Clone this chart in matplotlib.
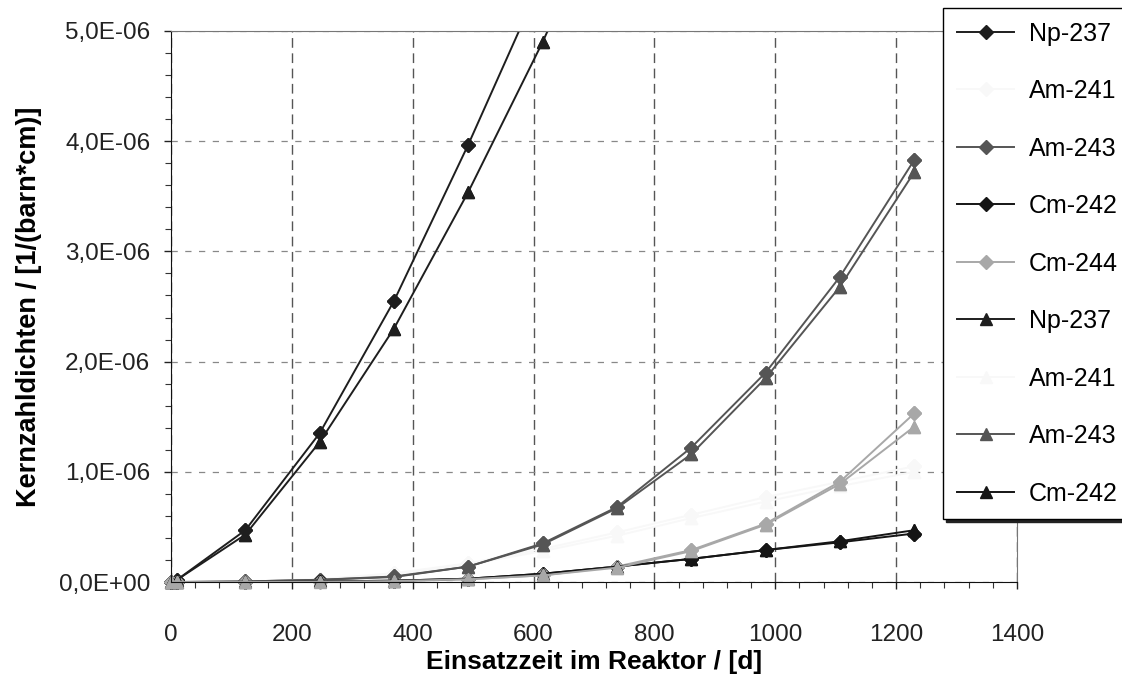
import numpy as np
import matplotlib
matplotlib.use('Agg')
import matplotlib.pyplot as plt
from matplotlib.ticker import MultipleLocator

plt.rcParams['font.family'] = ['Liberation Sans', 'DejaVu Sans']

# Einsatzzeit in Tagen
days = [0, 10, 123, 246, 369, 492, 615, 738, 861, 984, 1107, 1230]

# Kernzahldichten in 1E-06 /(barn*cm), Rauten-Reihe
np237_d = [0, 0.02, 0.47, 1.35, 2.55, 3.97, 5.48, 7.2, 9.1, 11.2, 13.5, 16.0]
am241_d = [0, 0, 0.005, 0.025, 0.08, 0.17, 0.30, 0.45, 0.61, 0.77, 0.91, 1.05]
am243_d = [0, 0, 0.005, 0.02, 0.05, 0.14, 0.35, 0.68, 1.22, 1.90, 2.77, 3.83]
cm242_d = [0, 0, 0.0, 0.005, 0.012, 0.03, 0.075, 0.14, 0.21, 0.29, 0.36, 0.44]
cm244_d = [0, 0, 0, 0.002, 0.008, 0.025, 0.06, 0.14, 0.29, 0.53, 0.91, 1.53]

# Dreieck-Reihe
np237_t = [0, 0.02, 0.43, 1.27, 2.30, 3.54, 4.90, 6.4, 8.1, 10.0, 12.1, 14.4]
am241_t = [0, 0, 0.005, 0.02, 0.07, 0.16, 0.28, 0.42, 0.58, 0.73, 0.87, 1.0]
am243_t = [0, 0, 0.005, 0.02, 0.045, 0.14, 0.34, 0.67, 1.16, 1.85, 2.68, 3.72]
cm242_t = [0, 0, 0, 0.005, 0.012, 0.03, 0.075, 0.14, 0.21, 0.29, 0.37, 0.47]
cm244_t = [0, 0, 0, 0.002, 0.008, 0.025, 0.06, 0.13, 0.28, 0.52, 0.89, 1.41]

labels = ['Np-237', 'Am-241', 'Am-243', 'Cm-242', 'Cm-244']
colors = ['#1e1e1e', '#f8f8f8', '#555555', '#151515', '#a8a8a8']

x_ticks = [0, 200, 400, 600, 800, 1000, 1200, 1400]
y_ticks = [0, 1e-6, 2e-6, 3e-6, 4e-6, 5e-6]
y_ticklabels = ['0,0E+00', '1,0E-06', '2,0E-06', '3,0E-06', '4,0E-06', '5,0E-06']

fig = plt.figure(figsize=(11.22, 6.91), dpi=100)
ax = fig.add_axes([171/1122, 1 - 582/691, (1017 - 171)/1122, (582 - 31)/691])

ymax = 5e-6
handles = []
sets = [([np237_d, am241_d, am243_d, cm242_d, cm244_d], 'D', 7),
        ([np237_t, am241_t, am243_t, cm242_t, cm244_t], '^', 9)]
for series, mk, ms in sets:
    for vals, lab, c in zip(series, labels, colors):
        y = np.array(vals) * 1e-6
        z = 1 if lab == 'Am-241' else 2
        ln, = ax.plot(days, y, color=c, lw=1.4, marker=mk, ms=ms,
                      mec=c, mfc=c, label=lab, zorder=z)
        handles.append(ln)
        # Marker an der Achse nicht abschneiden
        ym = np.ma.masked_greater(y, ymax * 1.001)
        ax.plot(days, ym, ls='none', marker=mk, ms=ms, mec=c, mfc=c,
                clip_on=False, zorder=z)

ax.set_xlim(0, 1400)
ax.set_ylim(0, ymax)
ax.set_xticks(x_ticks)
ax.set_xticklabels([str(v) for v in x_ticks])
ax.set_yticks(y_ticks)
ax.set_yticklabels(y_ticklabels)
ax.xaxis.set_minor_locator(MultipleLocator(40))
ax.yaxis.set_minor_locator(MultipleLocator(0.2e-6))
ax.tick_params(which='major', direction='out', length=5, width=1, labelsize=17.5,
               colors='#222222')
ax.tick_params(axis='x', which='major', pad=25)
ax.tick_params(axis='y', which='major', pad=10)
ax.tick_params(which='minor', direction='out', length=4, width=0.8, colors='#333333')

ax.grid(axis='x', which='major', ls=(0, (7, 4)), color='#555555', lw=1)
ax.grid(axis='y', which='major', ls=(0, (5, 6)), color='#888888', lw=0.9)
ax.set_axisbelow(True)

ax.spines['left'].set_color('#111111')
ax.spines['bottom'].set_color('#111111')
ax.spines['top'].set_color('#777777')
ax.spines['top'].set_linestyle((0, (2, 1)))
ax.spines['right'].set_color('#777777')
ax.spines['right'].set_linestyle((0, (2, 1)))

ax.set_xlabel('Einsatzzeit im Reaktor / [d]', fontsize=19, fontweight='bold', labelpad=3)
ax.set_ylabel('Kernzahldichten / [1/(barn*cm)]', fontsize=19.5, fontweight='bold', labelpad=12)

# Legende wie im Original abgeschnitten: nur 9 Eintraege
leg = fig.legend(handles=handles[:9], loc='upper left', mode='expand',
                 bbox_to_anchor=(943/1122, 1 - 530/691, 0.2, 522/691),
                 fontsize=18, frameon=True, fancybox=False, labelspacing=1.34,
                 handlelength=2.3, handletextpad=0.6, borderpad=0.55,
                 borderaxespad=0, numpoints=1,
                 shadow={'ox': 2, 'oy': -2, 'color': '#222222', 'alpha': 1})
leg.get_frame().set_edgecolor('black')
leg.get_frame().set_linewidth(1)

fig.savefig('out.png', dpi=100)
